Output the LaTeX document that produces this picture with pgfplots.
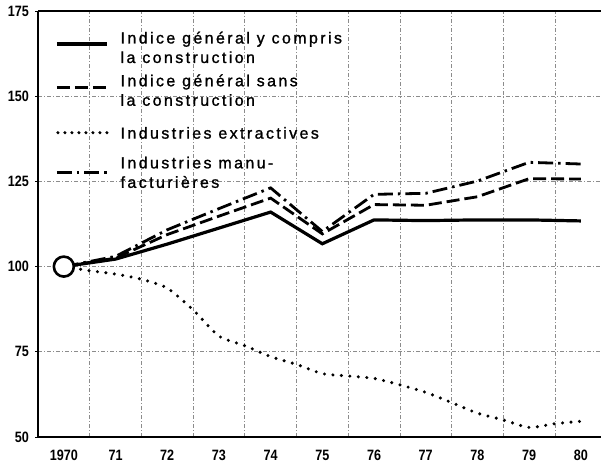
\documentclass[border=0pt]{standalone}
\usepackage{fontspec}
\setmainfont{Liberation Sans}
\newfontfamily\tickfamily[FakeStretch=0.84]{Liberation Sans Bold}
\newfontfamily\legfamily[LetterSpace=15,FakeBold=1.2]{Liberation Sans}
\usepackage{pgfplots}
\pgfplotsset{compat=1.18}
\pgfplotsset{
  legline/.style={legend image code/.code={\draw[##1] (0bp,#1) -- (50bp,#1);}},
  solleg/.style={legend image code/.code={\draw[black, line width=3.4bp] (0bp,#1) -- (50bp,#1);}},
  dotleg/.style={legend image code/.code={\draw[##1, dash pattern=on 0bp off 7bp] (1bp,#1) -- (50bp,#1);}}}
\begin{document}
\begin{tikzpicture}
\begin{axis}[
  scale only axis, width=563bp, height=426bp,
  xmin=1969.5, xmax=1980.39, ymin=50, ymax=175,
  axis x line*=bottom, axis y line*=left,
  axis line style={-, black},
  x axis line style={line width=2.2bp},
  y axis line style={line width=2bp},
  xtick={1970,...,1980},
  xticklabels={1970,71,72,73,74,75,76,77,78,79,80},
  minor xtick={1970.5,1971.5,...,1979.5},
  xminorgrids,
  major x tick style={draw=none}, minor x tick style={draw=none},
  ytick={50,75,100,125,150,175},
  ymajorgrids,
  ytick style={black, line width=0.8bp},
  tick align=outside, major tick length=3bp,
  grid style={black!45, line width=0.6bp, dash pattern=on 4bp off 2bp on 1bp off 2bp},
  minor grid style={black!45, line width=0.6bp, dash pattern=on 4bp off 2bp on 1bp off 2bp},
  /pgf/number format/assume math mode=true,
  tick label style={font=\tickfamily\fontsize{15bp}{17bp}\selectfont},
  yticklabel style={inner sep=0pt, xshift=-6bp},
  xticklabel style={inner sep=0pt, yshift=-10bp},
  legend style={at={(rel axis cs:0,1)}, anchor=north west, xshift=17bp, yshift=-20.5bp,
    draw=none, fill=none, inner sep=0pt, row sep=10bp, column sep=12bp,
    font=\legfamily\fontsize{16bp}{19.5bp}\selectfont,
    nodes={inner sep=0pt}, cells={align=left}},
  legend cell align=left,
  legend image code/.code={\draw[#1] (0bp,0bp) -- (50bp,0bp);},
]
\addplot[black, line width=3.2bp, solleg=4bp] coordinates {
 (1970,100) (1971,102.2) (1972,106.6) (1973,111.3) (1974,116) (1975,106.7)
 (1976,113.7) (1977,113.5) (1978,113.7) (1979,113.7) (1980,113.4)};
\addlegendentry{Indice général y compris\\la construction}
\addplot[black, line width=2.8bp, dash pattern=on 13bp off 5bp, legline=3bp] coordinates {
 (1970,100) (1971,102.5) (1972,109.4) (1973,114.8) (1974,120.1) (1975,109.6)
 (1976,118.2) (1977,118.0) (1978,120.5) (1979,125.8) (1980,125.7)};
\addlegendentry{Indice général sans\\la construction}
\addplot[black, line width=3.4bp, line cap=round, dash pattern=on 0bp off 8.5bp, smooth, tension=0.4, dotleg=-4bp] coordinates {
 (1970,100) (1970.5,98.8) (1971,97.8) (1971.5,96.3) (1972,93.7) (1972.5,87.3)
 (1973,79.6) (1973.5,76.8) (1974,73.6) (1974.5,71.3) (1975,68.6) (1975.5,67.9)
 (1976,67.2) (1976.5,65.3) (1977,63.1) (1977.5,60.1) (1978,57.0) (1978.5,55.0)
 (1979,52.8) (1979.5,53.9) (1980,54.6)};
\addlegendentry{\rule[-15.3bp]{0pt}{36.7bp}Industries extractives}
\addplot[black, line width=2.8bp, dash pattern=on 15bp off 5bp on 2.5bp off 5bp, legline=-2.5bp] coordinates {
 (1970,100) (1971,103) (1972,110.8) (1973,117) (1974,123.1) (1975,110.3)
 (1976,121.2) (1977,121.5) (1978,125.1) (1979,130.6) (1980,130.1)};
\addlegendentry{\rule{0pt}{18.2bp}Industries manu-\\facturières}
\addplot[only marks, mark=*, mark size=10bp, mark options={fill=white, draw=black, line width=2.6bp}, forget plot] coordinates {(1970,100)};
\draw[line width=1.2bp] (rel axis cs:0,1) -- (rel axis cs:1,1);
\end{axis}
\pgfresetboundingbox
\path[use as bounding box] (-38bp,-29bp) rectangle (563bp,437bp);
\end{tikzpicture}
\end{document}
